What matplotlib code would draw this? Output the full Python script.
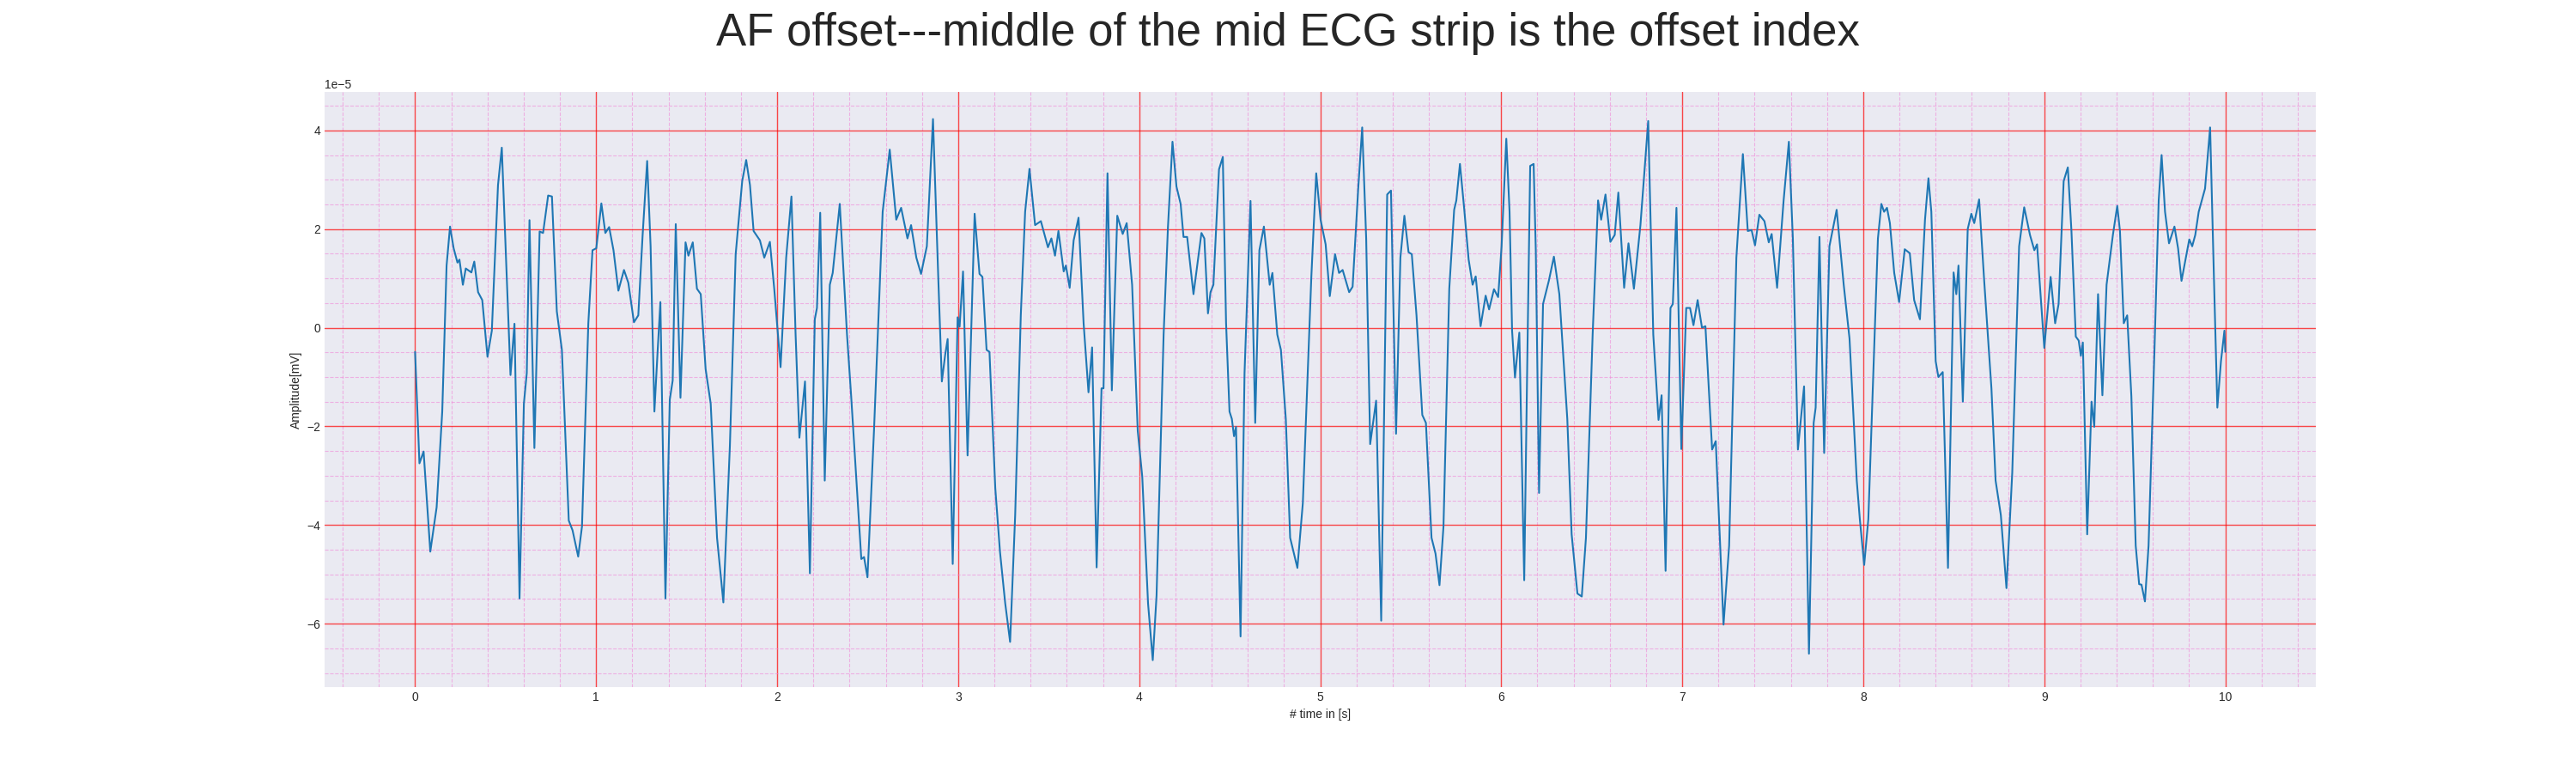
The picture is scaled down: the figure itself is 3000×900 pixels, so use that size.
import numpy as np
import matplotlib
matplotlib.use("Agg")
import matplotlib.pyplot as plt
from matplotlib.ticker import MultipleLocator

time_s = [0,.024,.047,.084,.119,.150,.174,.193,.213,.234,.245,.264,.280,.311,.327,.348,.371,.400,.424,.458,.479,.498,.527,.549,.577,.601,.617,.632,.659,.688,.707,.735,.756,.783,.811,.849,.870,.901,.922,.957,.980,
1.001,1.029,1.051,1.072,1.096,1.123,1.154,1.178,1.209,1.233,1.257,1.282,1.301,1.322,1.339,1.355,1.383,1.407,1.423,1.440,1.466,1.494,1.510,1.534,1.557,1.578,1.605,1.633,1.668,1.703,1.739,1.771,1.807,1.829,1.850,1.870,1.905,1.929,1.960,1.984,
2.019,2.050,2.079,2.102,2.123,2.154,2.181,2.208,2.220,2.238,2.263,2.291,2.307,2.346,2.386,2.409,2.465,2.480,2.499,2.535,2.583,2.622,2.658,2.685,2.720,2.740,2.769,2.795,2.827,2.861,2.890,2.910,2.929,2.942,2.970,2.997,
3.008,3.027,3.052,3.091,3.118,3.134,3.157,3.173,3.205,3.231,3.260,3.287,3.315,3.346,3.370,3.394,3.425,3.457,3.496,3.515,3.535,3.554,3.583,3.595,3.616,3.638,3.665,3.693,3.720,3.740,3.765,3.792,3.803,3.825,3.849,3.879,3.909,3.931,3.961,3.992,
4.017,4.049,4.075,4.096,4.135,4.159,4.184,4.206,4.229,4.245,4.265,4.300,4.344,4.360,4.380,4.394,4.410,4.441,4.462,4.480,4.499,4.512,4.524,4.535,4.560,4.582,4.615,4.641,4.664,4.689,4.721,4.736,4.763,4.783,4.810,4.834,4.874,4.904,4.951,4.978,
5.002,5.030,5.053,5.082,5.104,5.124,5.160,5.179,5.210,5.232,5.254,5.276,5.309,5.337,5.370,5.391,5.419,5.443,5.465,5.488,5.506,5.532,5.564,5.584,5.615,5.637,5.659,5.681,5.713,5.740,5.752,5.772,5.795,5.820,5.842,5.859,5.886,5.914,5.933,5.960,5.983,
6.002,6.028,6.046,6.060,6.076,6.100,6.127,6.144,6.160,6.179,6.191,6.209,6.231,6.263,6.291,6.321,6.365,6.389,6.421,6.445,6.468,6.505,6.535,6.552,6.576,6.603,6.627,6.647,6.679,6.703,6.733,6.769,6.812,6.840,6.869,6.886,6.908,6.935,6.948,6.968,6.995,
7.022,7.043,7.062,7.085,7.109,7.128,7.165,7.185,7.228,7.259,7.299,7.335,7.362,7.383,7.402,7.426,7.454,7.478,7.494,7.524,7.560,7.589,7.611,7.639,7.673,7.700,7.726,7.737,7.758,7.784,7.813,7.853,7.892,7.924,7.964,7.981,
8.005,8.028,8.052,8.081,8.100,8.115,8.131,8.147,8.171,8.198,8.229,8.257,8.281,8.313,8.341,8.360,8.376,8.400,8.415,8.439,8.468,8.499,8.514,8.526,8.550,8.577,8.597,8.613,8.640,8.668,8.708,8.731,8.760,8.791,8.823,8.861,8.889,8.921,8.945,8.960,
9.000,9.035,9.060,9.079,9.107,9.130,9.150,9.174,9.190,9.202,9.213,9.237,9.261,9.276,9.297,9.321,9.344,9.379,9.403,9.418,9.439,9.458,9.481,9.505,9.524,9.537,9.556,9.576,9.608,9.632,9.648,9.667,9.689,9.719,9.739,9.758,9.782,9.801,9.817,9.834,9.853,9.888,9.916,9.937,9.956,9.976,9.995,10.0]

amp_e5 = [-0.49,-2.75,-2.51,-4.54,-3.64,-1.70,1.26,2.05,1.61,1.32,1.38,0.87,1.20,1.12,1.34,0.72,0.56,-0.59,-0.06,2.89,3.65,1.81,-0.96,0.08,-5.49,-1.54,-0.92,2.18,-2.44,1.95,1.92,2.68,2.66,0.33,-0.45,-3.91,-4.11,-4.64,-4.03,0.09,1.57,
1.61,2.52,1.92,2.04,1.57,0.75,1.17,0.91,0.11,0.25,1.88,3.38,1.65,-1.70,-0.53,0.52,-5.49,-1.46,-1.07,2.10,-1.42,1.73,1.46,1.73,0.79,0.68,-0.84,-1.54,-4.26,-5.57,-2.40,1.49,2.97,3.40,2.89,1.96,1.77,1.42,1.74,0.79,
-0.80,1.42,2.66,-0.14,-2.23,-1.09,-4.98,0.17,0.40,2.33,-3.10,0.87,1.11,2.51,-0.14,-1.39,-4.69,-4.65,-5.06,-2.09,2.35,3.61,2.19,2.43,1.81,2.08,1.42,1.09,1.65,4.23,1.03,-1.09,-0.53,-0.23,-4.79,0.21,
0.02,1.14,-2.59,2.31,1.09,1.03,-0.45,-0.49,-3.25,-4.54,-5.59,-6.37,-3.80,0.25,2.35,3.22,2.08,2.16,1.63,1.81,1.46,1.96,1.14,1.26,0.81,1.77,2.23,0.09,-1.31,-0.40,-4.86,-1.23,-1.23,3.13,-1.27,2.27,1.90,2.12,0.87,-2.09,
-3.02,-5.59,-6.74,-5.43,-0.14,2.04,3.77,2.86,2.51,1.84,1.84,0.68,1.92,1.81,0.29,0.72,0.87,3.21,3.46,0.09,-1.70,-1.85,-2.20,-2.01,-6.26,-0.92,2.57,-1.93,1.57,2.05,0.87,1.11,-0.14,-0.45,-1.85,-4.26,-4.87,-3.56,1.03,3.13,
2.19,1.69,0.64,1.49,1.11,1.17,0.72,0.83,2.82,4.06,1.81,-2.36,-1.48,-5.94,2.70,2.78,-2.15,1.42,2.27,1.53,1.49,0.25,-1.77,-1.93,-4.26,-4.58,-5.22,-4.03,0.79,2.39,2.58,3.32,2.43,1.38,0.87,1.04,0.03,0.65,0.37,0.78,0.62,
1.65,3.83,2.35,-0.06,-1.01,-0.10,-5.12,-0.68,3.28,3.32,1.57,-3.35,0.48,0.95,1.44,0.68,-1.85,-4.19,-5.39,-5.45,-4.26,-0.14,2.58,2.19,2.70,1.74,1.88,2.74,0.81,1.71,0.79,2.08,4.19,-0.14,-1.87,-1.37,-4.93,0.40,0.48,2.43,-2.46,
0.40,0.40,0.05,0.56,0.00,0.03,-2.47,-2.30,-6.02,-4.42,1.42,3.52,1.96,1.98,1.67,2.29,2.16,1.73,1.90,0.81,2.58,3.77,1.81,-2.47,-1.19,-6.61,-1.93,-1.62,1.84,-2.54,1.65,2.39,0.87,-0.22,-3.10,-3.88,
-4.81,-3.88,-1.31,1.81,2.51,2.35,2.43,2.12,1.11,0.52,1.59,1.51,0.56,0.17,2.19,3.03,2.35,-0.68,-1.00,-0.90,-4.87,1.12,0.68,1.26,-1.50,2.00,2.31,2.12,2.60,0.95,-1.23,-3.10,-3.80,-5.28,-2.94,1.65,2.44,1.88,1.57,1.69,
-0.41,1.03,0.09,0.48,2.97,3.25,1.96,-0.18,-0.26,-0.57,-0.30,-4.19,-1.50,-2.01,0.68,-1.37,0.87,1.88,2.47,1.96,0.09,0.25,-1.39,-4.42,-5.20,-5.21,-5.55,-4.42,-0.53,2.58,3.50,2.35,1.71,2.05,1.61,0.95,1.42,1.79,1.65,1.88,2.35,2.82,4.06,1.03,-1.62,-0.68,-0.06,-0.49]

title = "AF offset---middle of the mid ECG strip is the offset index"
xlabel = "# time in [s]"
ylabel = "Amplitude[mV]"

plt.style.use("seaborn-v0_8-darkgrid")
fig = plt.figure(figsize=(30, 9), dpi=100)
ax = fig.add_axes([0.126, 0.111, 0.773, 0.770])
ax.plot(time_s, np.array(amp_e5) * 1e-5, color="#1f77b4", lw=1.5)
ax.xaxis.set_major_locator(MultipleLocator(1))
ax.xaxis.set_minor_locator(MultipleLocator(0.2))
ax.yaxis.set_major_locator(MultipleLocator(2e-5))
ax.yaxis.set_minor_locator(MultipleLocator(0.5e-5))
ax.grid(which="major", color="red", lw=1, alpha=0.7)
ax.grid(which="minor", color="#f08ad8", lw=0.8, ls="--", alpha=0.6)
ax.set_xlabel(xlabel, fontsize=10)
ax.set_ylabel(ylabel, fontsize=10)
fig.suptitle(title, fontsize=38, y=0.985)
fig.savefig("out.png", dpi=100)
